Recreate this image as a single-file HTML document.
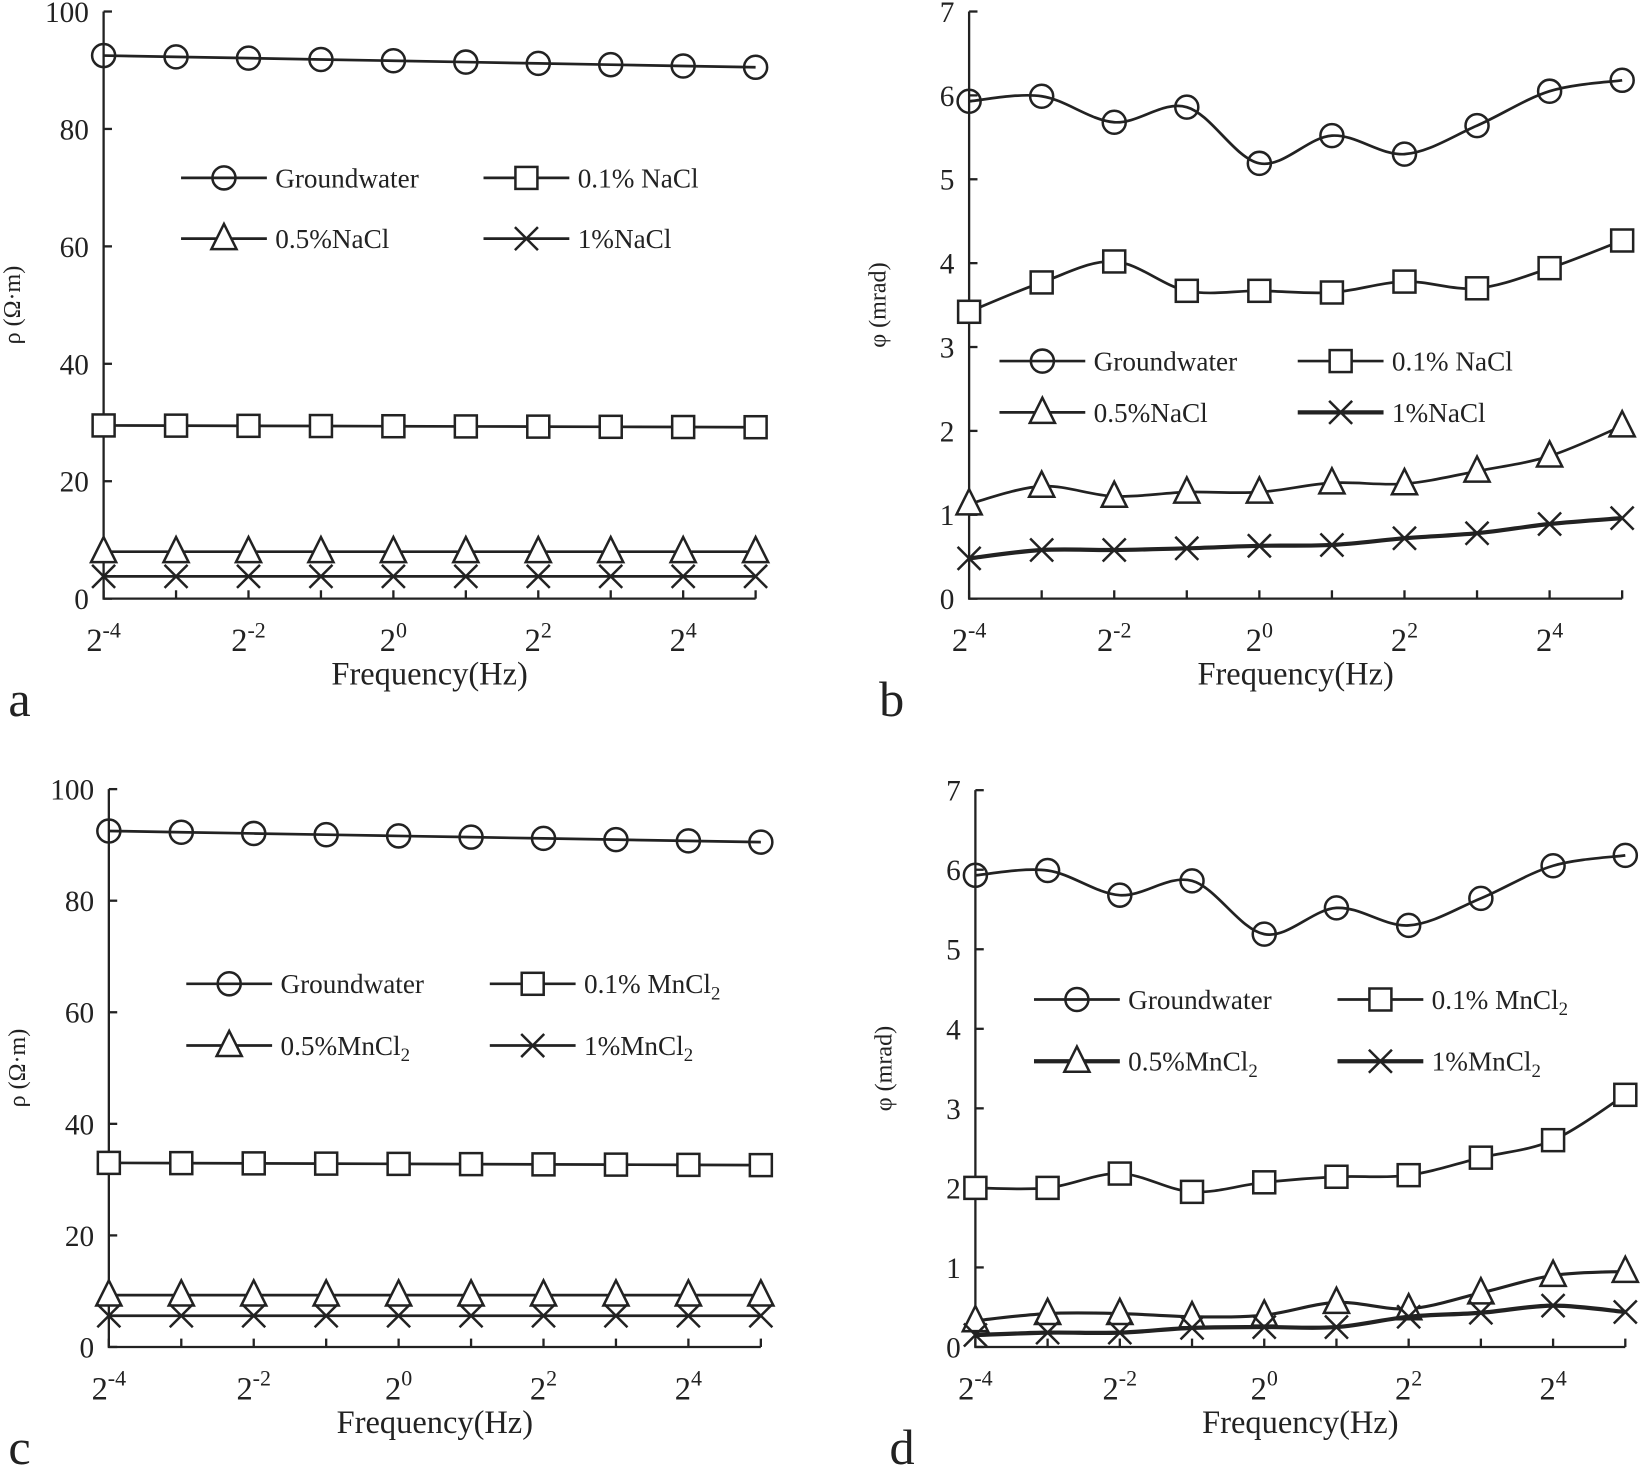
<!DOCTYPE html>
<html><head><meta charset="utf-8"><style>
html,body{margin:0;padding:0;background:#fff;}
svg{display:block;}
</style></head><body>
<svg id="s" width="1641" height="1469" viewBox="0 0 1568 1403.6" preserveAspectRatio="none" xmlns="http://www.w3.org/2000/svg" font-family="'Liberation Serif','DejaVu Serif',serif" fill="#222"></svg>
<script>
const S=document.getElementById('s');let h='';
const F=`font-family="'Liberation Serif','DejaVu Serif',serif"`;
function mk(t,x,y){
 if(t=='o')return `<circle cx="${x}" cy="${y}" r="11" fill="none" stroke="#222" stroke-width="2.4"/>`;
 if(t=='s')return `<rect x="${x-10.5}" y="${y-10.5}" width="21" height="21" fill="#fff" stroke="#222" stroke-width="2.4"/>`;
 if(t=='t')return `<path d="M${x} ${y-14}L${x+12} ${y+10}L${x-12} ${y+10}Z" fill="#fff" stroke="#222" stroke-width="2.4"/>`;
 return `<path d="M${x-11} ${y-11}L${x+11} ${y+11}M${x+11} ${y-11}L${x-11} ${y+11}" stroke="#222" stroke-width="2.4"/>`;
}
function curve(p,smooth){
 let d=`M${p[0][0]} ${p[0][1]}`;
 for(let i=0;i<p.length-1;i++){
  if(!smooth){d+=`L${p[i+1][0]} ${p[i+1][1]}`;continue;}
  const p0=p[i-1]||p[i],p1=p[i],p2=p[i+1],p3=p[i+2]||p2;
  const c1=[p1[0]+(p2[0]-p0[0])/6,p1[1]+(p2[1]-p0[1])/6],c2=[p2[0]-(p3[0]-p1[0])/6,p2[1]-(p3[1]-p1[1])/6];
  d+=`C${c1[0]} ${c1[1]} ${c2[0]} ${c2[1]} ${p2[0]} ${p2[1]}`;
 }
 return d;
}
function panel(o){
 const {x0,x1,yt,yb,max,step,series,leg,lab,lx,ylab,smooth}=o;
 const Y=v=>yb-(v/max)*(yb-yt), dx=(x1-x0)/9;
 h+=`<path d="M${x0} ${yt}V${yb}H${x1}" stroke="#222" stroke-width="2.2" fill="none"/>`;
 for(let v=0;v<=max+1e-9;v+=step){const y=Y(v);h+=`<path d="M${x0} ${y}h8" stroke="#222" stroke-width="2.2"/>`;
  h+=`<text ${F} x="${x0-14}" y="${y+10}" font-size="28" text-anchor="end">${Math.round(v)}</text>`;}
 for(let i=0;i<10;i++){const x=x0+i*dx;h+=`<path d="M${x} ${yb}v-8" stroke="#222" stroke-width="2.2"/>`;}
 [-4,-2,0,2,4].forEach((e,k)=>{const x=x0+(k*2)*dx;h+=`<text ${F} x="${x}" y="${yb+50}" font-size="31" text-anchor="middle">2<tspan dy="-13" font-size="21">${e}</tspan></text>`;});
 h+=`<text ${F} x="${(x0+x1)/2}" y="${yb+82}" font-size="31" text-anchor="middle">Frequency(Hz)</text>`;
 h+=`<text ${F} x="${lx}" y="${yb+112}" font-size="48">${lab}</text>`;
 h+=`<text ${F} transform="translate(${x0-80},${(yt+yb)/2}) rotate(-90)" font-size="23" text-anchor="middle">${ylab}</text>`;
 series.forEach(s=>{const p=s.d.map((v,i)=>[x0+i*dx,Y(v)]);
  h+=`<path d="${curve(p,smooth)}" stroke="#222" stroke-width="${s.w||2.6}" fill="none"/>`;
  p.forEach(q=>h+=mk(s.m,q[0],q[1]));});
 leg.forEach(l=>{h+=`<path d="M${l.x} ${l.y}h82" stroke="#222" stroke-width="${l.w||2.6}"/>`+mk(l.m,l.x+41,l.y);
  h+=`<text ${F} x="${l.x+90}" y="${l.y+9}" font-size="26">${l.t}</text>`;});
}
const G=[5.93,5.99,5.68,5.86,5.19,5.52,5.30,5.64,6.05,6.18];
const lin=(a,b)=>Array.from({length:10},(_,i)=>a+(b-a)*i/9);
const sub='<tspan font-size="18" dy="6">2</tspan>';
panel({x0:99,x1:722,yt:11,yb:572,max:100,step:20,lab:'a',lx:8,ylab:'ρ (Ω·m)',smooth:false,
 series:[{m:'o',d:lin(92.5,90.5)},{m:'s',d:lin(29.5,29.2)},{m:'t',d:lin(8,8)},{m:'x',d:lin(3.8,3.8)}],
 leg:[{x:173,y:170,m:'o',t:'Groundwater'},{x:462,y:170,m:'s',t:'0.1% NaCl'},{x:173,y:228,m:'t',t:'0.5%NaCl'},{x:462,y:228,m:'x',t:'1%NaCl'}]});
panel({x0:926,x1:1550,yt:11,yb:572,max:7,step:1,lab:'b',lx:840,ylab:'φ (mrad)',smooth:true,
 series:[{m:'o',d:G},{m:'s',d:[3.42,3.77,4.02,3.67,3.67,3.65,3.78,3.70,3.94,4.27]},{m:'t',d:[1.13,1.34,1.22,1.27,1.27,1.38,1.37,1.52,1.70,2.06]},{m:'x',w:4,d:[0.48,0.58,0.58,0.60,0.63,0.64,0.72,0.78,0.89,0.96]}],
 leg:[{x:955,y:345,m:'o',t:'Groundwater'},{x:1240,y:345,m:'s',t:'0.1% NaCl'},{x:955,y:394,m:'t',t:'0.5%NaCl'},{x:1240,y:394,m:'x',w:4,t:'1%NaCl'}]});
panel({x0:104,x1:727,yt:754,yb:1287,max:100,step:20,lab:'c',lx:8,ylab:'ρ (Ω·m)',smooth:false,
 series:[{m:'o',d:lin(92.5,90.5)},{m:'s',d:lin(33,32.6)},{m:'t',d:lin(9.3,9.3)},{m:'x',d:lin(5.6,5.6)}],
 leg:[{x:178,y:940,m:'o',t:'Groundwater'},{x:468,y:940,m:'s',t:'0.1% MnCl'+sub},{x:178,y:999,m:'t',t:'0.5%MnCl'+sub},{x:468,y:999,m:'x',t:'1%MnCl'+sub}]});
panel({x0:932,x1:1553,yt:755,yb:1287,max:7,step:1,lab:'d',lx:850,ylab:'φ (mrad)',smooth:true,
 series:[{m:'o',d:G},{m:'s',d:[2.0,2.0,2.18,1.95,2.07,2.14,2.16,2.38,2.6,3.17]},{m:'t',w:3,d:[0.33,0.42,0.42,0.38,0.40,0.56,0.48,0.68,0.9,0.95]},{m:'x',w:4,d:[0.15,0.18,0.18,0.24,0.25,0.25,0.38,0.43,0.52,0.44]}],
 leg:[{x:988,y:955,m:'o',t:'Groundwater'},{x:1278,y:955,m:'s',t:'0.1% MnCl'+sub},{x:988,y:1014,m:'t',w:4,t:'0.5%MnCl'+sub},{x:1278,y:1014,m:'x',w:4,t:'1%MnCl'+sub}]});
S.innerHTML=h;
</script>
</body></html>
